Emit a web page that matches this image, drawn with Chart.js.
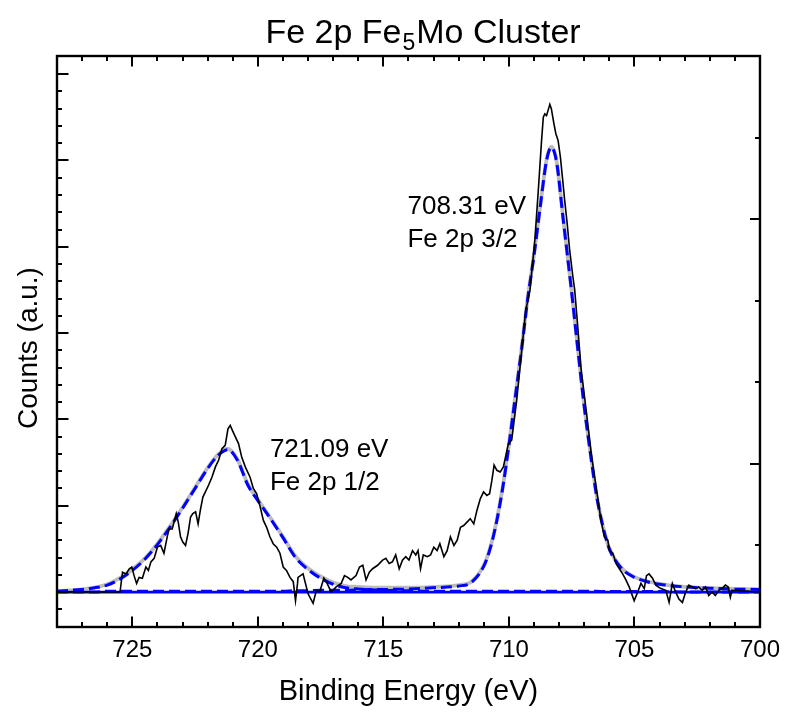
<!DOCTYPE html>
<html><head><meta charset="utf-8">
<script src="https://cdn.jsdelivr.net/npm/chart.js@4.4.1/dist/chart.umd.min.js"></script>
<style>html,body{margin:0;padding:0;background:#fff;} #wrap{width:789px;height:712px;position:relative;}</style>
</head><body><div id="wrap"><canvas id="c" width="789" height="712"></canvas></div>
<script>
// ---------- data ----------
const rawEnergy = [728.00,725.49,725.39,725.25,725.12,725.02,724.93,724.83,724.73,724.60,724.46,724.36,724.26,724.13,724.00,723.87,723.74,723.61,723.54,723.41,723.34,723.25,723.17,723.08,722.99,722.88,722.78,722.68,722.59,722.48,722.38,722.29,722.19,722.09,721.96,721.83,721.69,721.56,721.43,721.30,721.19,721.10,721.01,720.90,720.77,720.64,720.50,720.31,720.18,720.05,719.91,719.78,719.65,719.52,719.39,719.25,719.12,718.99,718.86,718.72,718.59,718.50,718.42,718.40,718.20,718.00,717.80,717.67,717.54,717.37,717.24,717.08,716.88,716.68,716.55,716.42,716.29,716.09,715.95,715.82,715.69,715.56,715.43,715.23,715.03,714.90,714.77,714.64,714.51,714.37,714.24,714.11,713.98,713.84,713.71,713.62,713.52,713.41,713.25,713.12,712.99,712.86,712.75,712.59,712.46,712.33,712.19,712.06,711.93,711.80,711.67,711.54,711.40,711.27,711.14,711.01,710.88,710.77,710.68,710.59,710.48,710.35,710.22,710.11,710.02,709.89,709.69,709.49,709.33,709.16,708.97,708.83,708.70,708.63,708.57,708.50,708.44,708.37,708.31,708.21,708.13,708.04,707.95,707.87,707.78,707.68,707.58,707.45,707.38,707.28,707.12,706.92,706.72,706.52,706.33,706.20,706.06,706.00,705.86,705.73,705.60,705.47,705.34,705.21,705.01,704.87,704.74,704.61,704.52,704.42,704.28,704.15,703.95,703.75,703.62,703.49,703.36,703.23,703.09,702.96,702.83,702.70,702.57,702.44,702.30,702.17,702.04,701.91,701.78,701.64,701.51,701.38,701.27,701.18,701.12,700.00];
const rawCounts = [0.00,0.00,0.23,0.21,0.27,0.29,0.19,0.10,0.17,0.16,0.29,0.25,0.35,0.39,0.52,0.54,0.45,0.64,0.73,0.73,0.81,0.91,0.81,0.64,0.58,0.54,0.68,0.87,0.91,0.93,0.79,0.95,1.10,1.16,1.24,1.33,1.45,1.53,1.66,1.70,1.89,1.93,1.87,1.80,1.72,1.56,1.45,1.33,1.20,1.14,0.99,0.83,0.75,0.64,0.56,0.52,0.45,0.29,0.25,0.17,0.12,-0.10,0.10,0.17,0.21,-0.02,-0.13,0.02,0.00,0.16,0.10,0.00,0.06,0.10,0.19,0.17,0.14,0.19,0.29,0.31,0.14,0.23,0.27,0.31,0.37,0.39,0.33,0.35,0.43,0.27,0.37,0.41,0.37,0.48,0.43,0.48,0.27,0.43,0.41,0.43,0.52,0.48,0.56,0.41,0.48,0.64,0.54,0.60,0.75,0.77,0.81,0.85,0.79,0.95,1.08,1.16,1.12,1.14,1.29,1.47,1.41,1.39,1.45,1.60,1.72,1.76,2.22,2.80,3.26,3.50,4.07,4.65,5.23,5.50,5.54,5.52,5.58,5.65,5.60,5.43,5.31,5.23,5.04,4.81,4.54,4.27,3.96,3.65,3.50,3.15,2.57,2.10,1.60,1.20,0.83,0.64,0.60,0.48,0.45,0.33,0.27,0.21,0.14,0.06,-0.10,0.00,0.10,0.04,0.19,0.21,0.16,0.08,0.04,0.02,-0.12,0.10,0.00,-0.08,-0.12,0.00,0.08,0.06,0.04,0.06,0.02,0.06,-0.04,0.00,-0.04,0.02,0.04,0.08,0.06,-0.06,0.02,0.00];

const fitEnergy = [728,727.5,727,726.5,726,725.5,725,724.5,724,723.5,723,722.5,722,721.6,721.2,720.8,720.4,720,719.5,719,718.5,718,717.5,717,716.5,716,715,714,713,712,711.5,711,710.75,710.5,710.25,710,709.75,709.5,709.25,709,708.75,708.5,708.31,708.1,707.85,707.5,707.25,707,706.75,706.5,706.25,706,705.5,705,704.5,704,703,702,701,700];
const peak32 = [0,0,0,0,0.01,0.01,0.01,0.01,0.01,0.01,0.01,0.01,0.01,0.01,0.01,0.01,0.01,0.01,0.01,0.01,0.015,0.015,0.02,0.02,0.02,0.025,0.03,0.035,0.05,0.07,0.11,0.30,0.50,0.80,1.20,1.70,2.25,2.80,3.40,3.90,4.47,5.00,5.15,4.98,4.35,3.47,2.80,2.15,1.60,1.10,0.75,0.50,0.27,0.17,0.12,0.09,0.06,0.045,0.035,0.03];
const peak12 = [0.01,0.02,0.03,0.05,0.08,0.15,0.25,0.38,0.55,0.75,0.97,1.20,1.43,1.58,1.65,1.52,1.24,1.06,0.85,0.63,0.40,0.26,0.16,0.09,0.05,0.035,0.02,0.015,0.01,0.01,0.01,0.01,0.01,0.01,0.01,0.01,0.01,0.01,0.01,0.01,0.01,0.01,0.01,0.01,0.01,0.01,0.01,0.01,0.01,0.01,0.005,0.005,0.005,0.005,0.005,0.005,0,0,0,0];
const envelope = [0.01,0.02,0.03,0.05,0.09,0.16,0.26,0.39,0.56,0.76,0.98,1.21,1.44,1.59,1.66,1.53,1.25,1.07,0.86,0.64,0.415,0.275,0.18,0.11,0.07,0.06,0.05,0.05,0.06,0.08,0.12,0.31,0.51,0.81,1.21,1.71,2.26,2.81,3.41,3.91,4.48,5.01,5.16,4.99,4.36,3.48,2.81,2.16,1.61,1.11,0.755,0.505,0.275,0.175,0.125,0.095,0.06,0.045,0.035,0.03];

const baselineEnergy = [728, 700];
const baselineCounts = [0, 0];

const xTickLabels = [725, 720, 715, 710, 705, 700];
const peakLabels = [
  {lines: ['708.31 eV', 'Fe 2p 3/2'], E: 714.04, v: 4.375},
  {lines: ['721.09 eV', 'Fe 2p 1/2'], E: 719.52, v: 1.564}
];
const titleParts = ['Fe 2p Fe', '5', 'Mo Cluster'];
const yAxisTitle = 'Counts (a.u.)';

// ---------- helpers ----------
const pts = (xs, ys) => xs.map((x, i) => ({x: x, y: ys[i]}));
const FONT = "'Liberation Sans', Arial, Helvetica, sans-serif";

const decor = {
  id: 'decor',
  afterDatasetsDraw(chart) {
    const ctx = chart.ctx;
    const a = chart.chartArea;
    const xs = chart.scales.x, ys = chart.scales.y;
    ctx.save();
    ctx.strokeStyle = '#000';
    ctx.lineWidth = 2;
    ctx.lineCap = 'butt';
    // x ticks (bottom & top), inward
    for (let e = 701; e <= 727; e++) {
      const px = Math.round(xs.getPixelForValue(e));
      const major = xTickLabels.indexOf(e) >= 0;
      const len = major ? 10.5 : 5;
      ctx.beginPath();
      ctx.moveTo(px, a.bottom); ctx.lineTo(px, a.bottom - len);
      ctx.moveTo(px, a.top); ctx.lineTo(px, a.top + len);
      ctx.stroke();
    }
    // left y ticks
    for (let k = -2; k <= 30; k++) {
      const v = k * 0.2;
      const py = Math.round(ys.getPixelForValue(v));
      if (py <= a.top + 1 || py >= a.bottom - 1) continue;
      const major = (k % 5 === 0);
      const len = major ? 11.5 : 5;
      ctx.beginPath();
      ctx.moveTo(a.left, py); ctx.lineTo(a.left + len, py);
      ctx.stroke();
    }
    // right ticks
    for (let k = 1; k <= 6; k++) {
      const py = Math.round(a.top + k * (a.bottom - a.top) / 7);
      const major = (k === 2 || k === 5);
      const len = major ? 10 : 5;
      ctx.beginPath();
      ctx.moveTo(a.right, py); ctx.lineTo(a.right - len, py);
      ctx.stroke();
    }
    // frame
    ctx.lineWidth = 2.4;
    ctx.strokeRect(a.left, a.top, a.right - a.left, a.bottom - a.top);

    // peak labels
    ctx.fillStyle = '#000';
    ctx.font = '26px ' + FONT;
    ctx.textAlign = 'left';
    ctx.textBaseline = 'alphabetic';
    peakLabels.forEach(l => {
      const px = xs.getPixelForValue(l.E);
      const py = ys.getPixelForValue(l.v);
      l.lines.forEach((t, i) => ctx.fillText(t, px, py + i * 33));
    });

    // y axis title
    ctx.save();
    ctx.font = '28px ' + FONT;
    ctx.translate(29, 348);
    ctx.rotate(-Math.PI / 2);
    ctx.textAlign = 'center';
    ctx.textBaseline = 'middle';
    ctx.fillText(yAxisTitle, 0, 0);
    ctx.restore();

    // title with subscript
    const big = '34px ' + FONT, small = '23px ' + FONT;
    ctx.font = big; const w1 = ctx.measureText(titleParts[0]).width;
    const w3 = ctx.measureText(titleParts[2]).width;
    ctx.font = small; const w2 = ctx.measureText(titleParts[1]).width;
    const total = w1 + w2 + w3 + 2;
    let x0 = 423 - total / 2;
    const base = 42.7;
    ctx.textAlign = 'left';
    ctx.textBaseline = 'alphabetic';
    ctx.font = big; ctx.fillText(titleParts[0], x0, base);
    ctx.font = small; ctx.fillText(titleParts[1], x0 + w1 + 1, base + 7.5);
    ctx.font = big; ctx.fillText(titleParts[2], x0 + w1 + w2 + 2, base);
    ctx.restore();
  }
};

new Chart(document.getElementById('c'), {
  type: 'line',
  data: {
    datasets: [
      {label: 'Raw', data: pts(rawEnergy, rawCounts), borderColor: '#000', borderWidth: 1.6, pointRadius: 0, tension: 0, order: 0},
      {label: 'Fe 2p 3/2', data: pts(fitEnergy, peak32), borderColor: '#0000ff', borderWidth: 3, borderDash: [11, 5], pointRadius: 0, cubicInterpolationMode: 'monotone', order: 1},
      {label: 'Fe 2p 1/2', data: pts(fitEnergy, peak12), borderColor: '#0000ff', borderWidth: 3, borderDash: [11, 5], pointRadius: 0, cubicInterpolationMode: 'monotone', order: 1},
      {label: 'Baseline', data: pts(baselineEnergy, baselineCounts), borderColor: '#0000ff', borderWidth: 2.8, pointRadius: 0, order: 2},
      {label: 'Envelope', data: pts(fitEnergy, envelope), borderColor: '#bcbcbc', borderWidth: 3.8, pointRadius: 0, cubicInterpolationMode: 'monotone', order: 3}
    ]
  },
  options: {
    responsive: false,
    animation: false,
    devicePixelRatio: 1,
    layout: {padding: {left: 0, top: 56, right: 24, bottom: 0}},
    plugins: {legend: {display: false}, tooltip: {enabled: false}, title: {display: false}},
    scales: {
      x: {
        type: 'linear', reverse: true, min: 700, max: 728,
        grid: {display: false, drawTicks: false},
        border: {display: false},
        ticks: {color: '#000', font: {family: FONT, size: 24}, padding: 9, includeBounds: false, maxRotation: 0},
        afterBuildTicks: s => { s.ticks = xTickLabels.map(v => ({value: v})); },
        afterFit: s => { s.height = 85; },
        title: {display: true, text: 'Binding Energy (eV)', color: '#000', font: {family: FONT, size: 29}, padding: {top: 0, bottom: 3}}
      },
      y: {
        type: 'linear', min: -0.405, max: 6.21,
        grid: {display: false, drawTicks: false},
        border: {display: false},
        ticks: {display: false},
        afterFit: s => { s.width = 57; },
        title: {display: false}
      }
    }
  },
  plugins: [decor]
});
</script>
</body></html>
